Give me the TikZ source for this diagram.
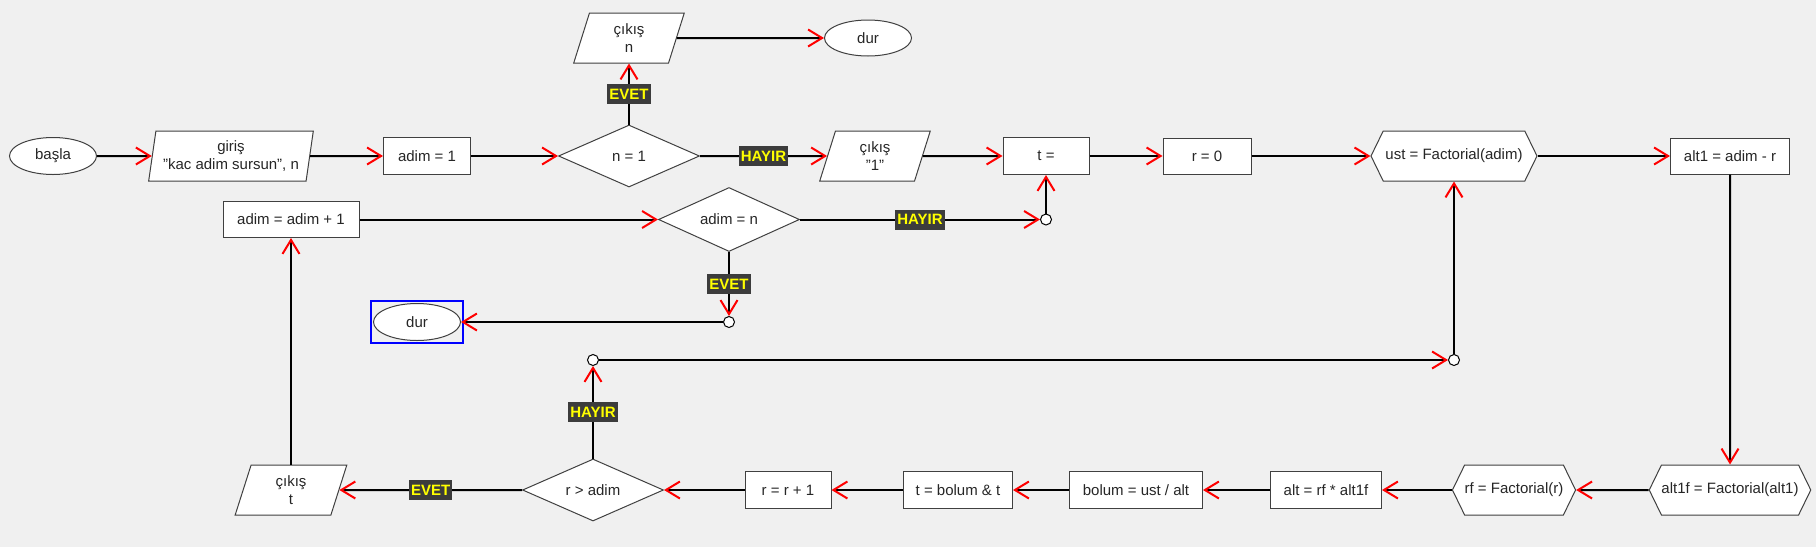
\documentclass[tikz,border=0pt]{standalone}
\usepackage{fontspec}
\setmainfont{Liberation Sans}
\usetikzlibrary{shapes,arrows.meta,fit,positioning}
\definecolor{zemin}{HTML}{F0F0F0}
\definecolor{koyu}{HTML}{3C3C3C}
\definecolor{kenar}{HTML}{404040}
\definecolor{sari}{HTML}{FFFF00}

\begin{document}
\begin{tikzpicture}[x=1pt, y=-1pt]
\tikzset{
    %Define standard arrow tip
    >={Straight Barb[red, length=14pt, width=17pt, line width=2pt]},
    %Define style for boxes
    kutu/.style={
           rectangle,
           draw=kenar, line width=1pt,
           fill=white,
           inner sep=0pt,
           minimum height=37pt,
           text=black!85,
           font=\fontsize{15}{18}\selectfont},
    uc/.style={kutu, ellipse, minimum width=87pt},
    girdi/.style={kutu, trapezium, trapezium left angle=78,
           trapezium right angle=102, trapezium stretches=true,
           minimum height=50pt, align=center},
    karar/.style={kutu, diamond, aspect=2.3,
           minimum width=141pt, minimum height=62pt},
    fonk/.style={kutu, signal, signal to=west and east,
           signal pointer angle=128, minimum height=50pt},
    nokta/.style={circle, draw=black, line width=1pt, fill=white,
           inner sep=0pt, minimum size=11pt},
    % Define label style
    etiket/.style={fill=koyu, text=sari, inner sep=2pt,
           minimum height=20pt,
           font=\fontsize{15}{17}\selectfont\bfseries},
    % Define arrow style
    ok/.style={->, line width=2pt, black}
}
 \fill[zemin] (0,0) rectangle (1816,547);
 \useasboundingbox (0,0) rectangle (1816,547);
 %nodes, top row
 \node[uc] (basla) at (53,156) {başla};
 \node[girdi, minimum width=165pt] (giris) at (231,156) {giriş\\"kac adim sursun", n};
 \node[kutu, minimum width=87pt] (adim1) at (427,156) {adim = 1};
 \node[karar] (n1) at (629,156) {n = 1};
 \node[girdi, minimum width=111pt] (cikisn) at (629,38) {çıkış\\n};
 \node[uc, minimum height=36pt] (dur) at (868,38) {dur};
 \node[girdi, minimum width=111pt] (cikis1) at (875,156) {çıkış\\"1"};
 \node[kutu, minimum width=86pt] (t0) at (1046,156) {t =};
 \node[kutu, minimum width=88pt, minimum height=36pt] (r0) at (1207,156) {r = 0};
 \node[fonk, minimum width=166pt] (ust) at (1454,156) {ust = Factorial(adim)};
 \node[kutu, minimum width=119pt, minimum height=36pt] (alt1) at (1730,156) {alt1 = adim - r};
 % second row and the loop back
 \node[kutu, minimum width=136pt, minimum height=36pt] (artir) at (291,219.5) {adim = adim + 1};
 \node[karar, minimum height=64pt] (adimn) at (729,219.5) {adim = n};
 \node[nokta] (b1) at (1046,219.5) {};
 \node[nokta] (b2) at (729,322) {};
 \node[uc] (dur2) at (417,322) {dur};
 \node[draw=blue, line width=2pt, inner sep=2pt, fit=(dur2)] (secili) {};
 \node[nokta] (b3) at (593,360) {};
 \node[nokta] (b4) at (1454,360) {};
 % bottom row
 \node[fonk, minimum width=161pt] (alt1f) at (1730,490) {alt1f = Factorial(alt1)};
 \node[fonk, minimum width=119pt] (rf) at (1514,490) {rf = Factorial(r)};
 \node[kutu, minimum width=111pt] (alt) at (1326,490) {alt = rf * alt1f};
 \node[kutu, minimum width=133pt] (bolum) at (1136,490) {bolum = ust / alt};
 \node[kutu, minimum width=109pt] (tb) at (958,490) {t = bolum \& t};
 \node[kutu, minimum width=86pt] (rr) at (788,490) {r = r + 1};
 \node[karar] (radim) at (593,490) {r > adim};
 \node[girdi, minimum width=112pt] (cikist) at (291,490) {çıkış\\t};

 % connectors
 \draw[ok] (basla) -- (giris);
 \draw[ok] (giris) -- (adim1);
 \draw[ok] (adim1) -- (n1);
 \draw[ok] (n1) -- node[etiket] {EVET} (cikisn);
 \draw[ok] (cikisn) -- (dur);
 \draw[ok] (n1) -- node[etiket] {HAYIR} (cikis1);
 \draw[ok] (cikis1) -- (t0);
 \draw[ok] (t0) -- (r0);
 \draw[ok] (r0) -- (ust);
 \draw[ok] (ust) -- (alt1);
 \draw[ok] (alt1) -- (alt1f);
 \draw[ok] (alt1f) -- (rf);
 \draw[ok] (rf) -- (alt);
 \draw[ok] (alt) -- (bolum);
 \draw[ok] (bolum) -- (tb);
 \draw[ok] (tb) -- (rr);
 \draw[ok] (rr) -- (radim);
 \draw[ok] (radim) -- node[etiket] {EVET} (cikist);
 \draw[ok] (radim) -- node[etiket] {HAYIR} (b3);
 \draw[ok] (b3) -- (b4);
 \draw[ok] (b4) -- (ust);
 \draw[ok] (cikist) -- (artir);
 \draw[ok] (artir) -- (adimn);
 \draw[ok] (adimn) -- node[etiket] {HAYIR} (b1);
 \draw[ok] (b1) -- (t0);
 \draw[ok] (adimn) -- node[etiket] {EVET} (b2);
 \draw[ok] (b2) -- (dur2);
\end{tikzpicture}
\end{document}
